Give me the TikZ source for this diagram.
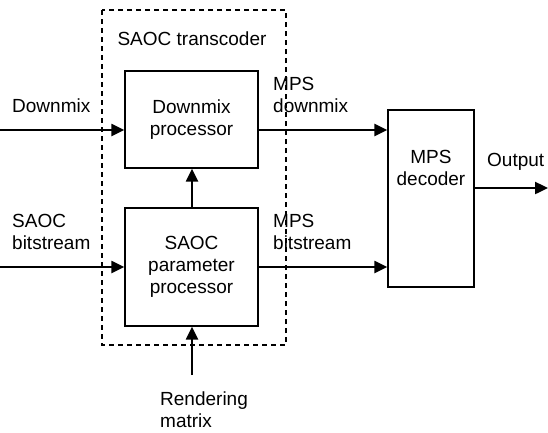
\documentclass[tikz,border=0pt]{standalone}
\usepackage{fontspec}
\setmainfont{Liberation Sans}
\usetikzlibrary{arrows.meta}
\tikzset{
  block/.style={draw, line width=1.4pt, align=center, font=\fontsize{19}{22}\selectfont},
  lbl/.style={align=left, font=\fontsize{19}{22}\selectfont, inner sep=0pt},
  sig/.style={line width=2.4pt, -{Triangle[length=13pt,width=12pt]}}
}
\begin{document}
\begin{tikzpicture}[x=1pt,y=-1pt]
  \useasboundingbox (0,0) rectangle (548,432);

  % SAOC transcoder (dashed)
  \draw[line width=1.3pt, dash pattern=on 5pt off 4pt] (102,10) rectangle (286,345);
  \node[lbl] (title) at (192,39) {SAOC transcoder};

  % Blocks
  \node[block, minimum width=133pt, minimum height=97pt] (dmx) at (191.5,119.5) {Downmix\\processor};
  \node[block, minimum width=133pt, minimum height=118pt] (par) at (191.5,267) {SAOC\\parameter\\processor};
  \node[block, minimum width=86pt, minimum height=177pt, text depth=62pt] (mps) at (431,198.5) {MPS\\decoder};

  % Free ends
  \coordinate (in1) at (0,130);
  \coordinate (in2) at (0,267);
  \coordinate (rend) at (192,375);
  \coordinate (out) at (548,188);

  % Connectors
  \draw[sig] (in1) -- (dmx.west |- in1);
  \draw[sig] (in2) -- (par.west |- in2);
  \draw[sig] (dmx.east |- in1) -- (mps.west |- in1);
  \draw[sig] (par.east |- in2) -- (mps.west |- in2);
  \draw[sig] (par.north -| rend) -- (dmx.south -| rend);
  \draw[sig] (rend) -- (par.south -| rend);
  \draw[sig] (mps.east |- out) -- (out);

  % Labels
  \node[lbl, anchor=west] (ldmx) at (12,106) {Downmix};
  \node[lbl, anchor=west] (lsaoc) at (12,232) {SAOC\\bitstream};
  \node[lbl, anchor=west] (lmpsd) at (273,95) {MPS\\downmix};
  \node[lbl, anchor=west] (lmpsb) at (273,232) {MPS\\bitstream};
  \node[lbl, anchor=west] (lout) at (487,162) {Output};
  \node[lbl, anchor=west] (lrend) at (160,410) {Rendering\\matrix};
\end{tikzpicture}
\end{document}
